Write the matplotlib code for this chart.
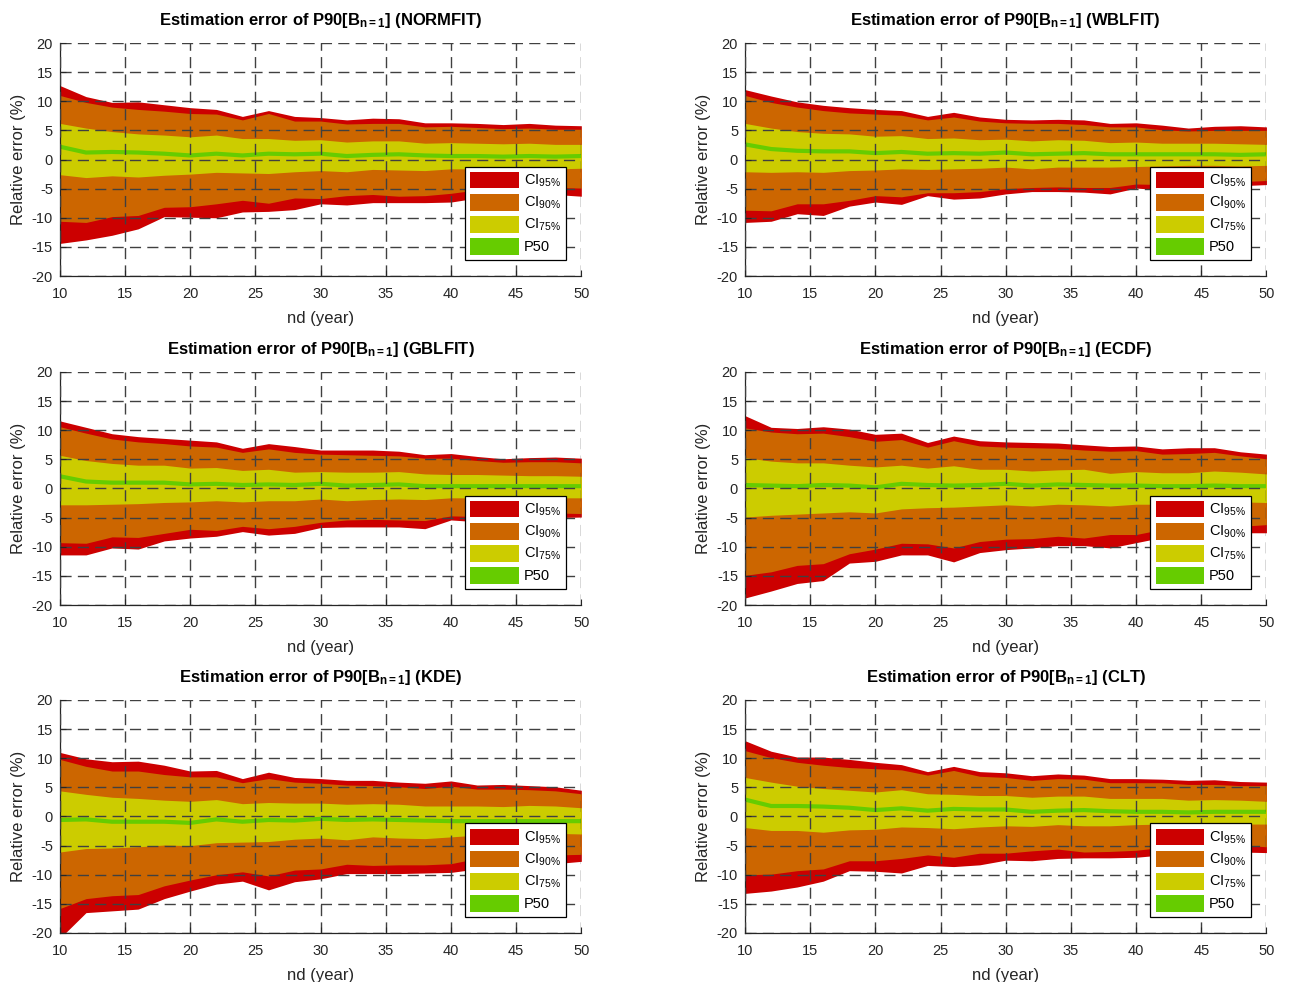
import numpy as np
import matplotlib
matplotlib.use("Agg")
import matplotlib.pyplot as plt
from matplotlib.patches import Patch

plt.rcParams['font.family'] = ['Liberation Sans', 'DejaVu Sans']
plt.rcParams['mathtext.fontset'] = 'custom'
plt.rcParams['mathtext.rm'] = 'Liberation Sans'
plt.rcParams['mathtext.it'] = 'Liberation Sans'
plt.rcParams['mathtext.bf'] = 'Liberation Sans:bold'
plt.rcParams['axes.unicode_minus'] = False

nd = np.arange(10, 51, 2)

# NORMFIT
normfit_hi95 = [12.7, 10.8, 9.8, 9.9, 9.4, 8.9, 8.6, 7.4, 8.4, 7.4, 7.2, 6.8, 7.1, 7.0, 6.3, 6.3, 6.2, 6.0, 6.2, 5.9, 5.8]
normfit_hi90 = [11.0, 9.8, 9.0, 8.6, 8.3, 7.9, 7.8, 6.8, 7.9, 6.6, 6.6, 6.1, 6.2, 6.2, 5.6, 5.7, 5.5, 5.3, 5.4, 5.2, 5.2]
normfit_hi75 = [6.2, 5.4, 4.8, 4.4, 4.2, 3.9, 4.2, 3.6, 3.6, 3.3, 3.4, 3.0, 3.2, 3.2, 2.8, 2.9, 2.8, 2.7, 2.8, 2.6, 2.6]
normfit_p50 = [2.2, 1.2, 1.3, 1.2, 1.0, 0.7, 1.0, 0.7, 1.0, 0.9, 1.0, 0.6, 0.8, 0.9, 0.7, 0.6, 0.6, 0.5, 0.6, 0.5, 0.6]
normfit_lo75 = [-2.6, -3.1, -2.8, -3.0, -2.7, -2.5, -2.2, -2.3, -2.4, -2.1, -1.9, -2.1, -1.7, -1.8, -1.9, -1.6, -1.6, -1.5, -1.5, -1.6, -1.5]
normfit_lo90 = [-10.6, -10.8, -9.8, -9.6, -8.2, -8.1, -7.6, -7.0, -7.5, -6.6, -6.7, -6.2, -6.0, -6.3, -6.2, -5.8, -5.2, -5.0, -5.0, -4.8, -4.9]
normfit_lo95 = [-14.4, -13.8, -13.0, -11.9, -9.8, -9.9, -10.0, -9.0, -8.9, -8.6, -7.6, -7.8, -7.4, -7.4, -7.4, -7.3, -6.6, -6.5, -6.4, -6.0, -6.3]

# WBLFIT
wblfit_hi95 = [12.0, 10.9, 9.9, 9.3, 8.9, 8.6, 8.4, 7.4, 8.1, 7.3, 6.9, 6.8, 6.9, 6.8, 6.2, 6.3, 5.9, 5.4, 5.7, 5.8, 5.6]
wblfit_hi90 = [11.0, 9.8, 9.0, 8.4, 8.0, 7.8, 7.6, 6.8, 7.3, 6.6, 6.3, 6.2, 6.2, 6.0, 5.6, 5.6, 5.1, 4.9, 5.0, 5.0, 5.0]
wblfit_hi75 = [6.2, 5.4, 4.8, 4.5, 4.4, 4.0, 4.1, 3.6, 3.7, 3.4, 3.5, 3.2, 3.4, 3.3, 2.9, 3.0, 2.8, 2.8, 2.8, 2.7, 2.6]
wblfit_p50 = [2.6, 1.8, 1.5, 1.4, 1.4, 1.1, 1.3, 1.0, 1.1, 1.0, 1.2, 0.9, 1.0, 1.1, 0.9, 0.9, 0.9, 0.9, 0.9, 0.8, 0.9]
wblfit_lo75 = [-2.1, -2.2, -2.1, -2.2, -1.9, -1.8, -1.6, -1.7, -1.6, -1.5, -1.3, -1.6, -1.3, -1.3, -1.3, -1.2, -1.1, -1.0, -1.0, -1.1, -1.0]
wblfit_lo90 = [-8.7, -8.8, -7.6, -7.6, -7.0, -6.2, -6.4, -5.7, -5.7, -5.5, -5.0, -4.8, -4.7, -4.8, -4.8, -4.2, -4.3, -4.2, -4.1, -3.8, -3.6]
wblfit_lo95 = [-10.8, -10.6, -9.3, -9.6, -8.0, -7.3, -7.7, -6.2, -6.8, -6.6, -5.9, -5.5, -5.5, -5.6, -5.9, -4.9, -5.2, -4.8, -4.6, -4.5, -4.3]

# GBLFIT
gblfit_hi95 = [11.6, 10.5, 9.4, 8.9, 8.6, 8.3, 8.0, 6.9, 7.7, 7.2, 6.6, 6.6, 6.6, 6.4, 5.8, 6.0, 5.5, 5.1, 5.3, 5.4, 5.2]
gblfit_hi90 = [10.6, 9.5, 8.5, 8.0, 7.7, 7.3, 7.1, 6.2, 6.8, 6.2, 5.9, 5.8, 5.7, 5.6, 5.2, 5.2, 4.8, 4.5, 4.6, 4.6, 4.4]
gblfit_hi75 = [5.7, 4.8, 4.3, 4.0, 4.0, 3.5, 3.6, 3.1, 3.3, 2.8, 2.9, 2.8, 2.8, 2.9, 2.5, 2.4, 2.4, 2.3, 2.2, 2.2, 2.1]
gblfit_p50 = [2.1, 1.2, 1.0, 1.0, 1.0, 0.7, 0.8, 0.6, 0.7, 0.6, 0.8, 0.5, 0.6, 0.7, 0.4, 0.4, 0.4, 0.4, 0.4, 0.4, 0.4]
gblfit_lo75 = [-2.8, -2.8, -2.7, -2.6, -2.4, -2.3, -2.1, -2.3, -2.1, -2.1, -1.8, -2.1, -1.9, -1.8, -1.9, -1.6, -1.6, -1.6, -1.6, -1.6, -1.6]
gblfit_lo90 = [-9.3, -9.4, -8.3, -8.4, -7.7, -7.0, -7.2, -6.5, -6.9, -6.5, -5.8, -5.4, -5.3, -5.4, -5.5, -4.7, -4.8, -4.5, -4.3, -4.2, -4.3]
gblfit_lo95 = [-11.4, -11.4, -10.2, -10.4, -9.0, -8.5, -8.2, -7.4, -8.0, -7.7, -6.7, -6.6, -6.6, -6.6, -6.9, -5.4, -5.7, -5.3, -5.1, -5.0, -4.9]

# ECDF
ecdf_hi95 = [12.5, 10.5, 10.3, 10.6, 10.2, 9.3, 9.5, 7.9, 9.0, 8.2, 8.0, 7.9, 7.8, 7.5, 7.2, 7.3, 6.8, 7.0, 7.0, 6.3, 5.9]
ecdf_hi90 = [10.4, 9.7, 9.4, 9.5, 8.9, 8.1, 8.4, 7.1, 8.2, 7.3, 7.1, 7.0, 6.9, 6.6, 6.4, 6.5, 5.9, 6.0, 6.2, 5.6, 5.1]
ecdf_hi75 = [5.3, 4.7, 4.4, 4.4, 4.0, 3.7, 4.0, 3.5, 3.9, 3.3, 3.3, 3.0, 3.2, 3.3, 2.6, 2.9, 2.7, 2.7, 3.0, 2.8, 2.5]
ecdf_p50 = [0.6, 0.5, 0.4, 0.6, 0.5, 0.2, 0.8, 0.6, 0.5, 0.6, 0.8, 0.5, 0.7, 0.6, 0.5, 0.5, 0.4, 0.4, 0.5, 0.4, 0.4]
ecdf_lo75 = [-4.9, -4.6, -4.4, -4.2, -4.0, -4.2, -3.5, -3.3, -3.2, -3.0, -2.8, -3.0, -2.7, -2.8, -3.0, -2.7, -2.7, -2.5, -2.5, -2.3, -2.4]
ecdf_lo90 = [-14.9, -14.3, -13.2, -12.9, -11.2, -10.4, -9.4, -9.5, -10.2, -9.1, -8.7, -8.6, -8.2, -8.5, -7.9, -7.9, -7.0, -6.9, -6.7, -6.5, -6.2]
ecdf_lo95 = [-18.8, -17.6, -16.3, -15.8, -12.8, -12.5, -11.4, -11.4, -12.6, -11.0, -10.5, -10.2, -9.8, -9.8, -10.2, -9.3, -8.4, -8.3, -8.1, -7.6, -7.6]

# KDE
kde_hi95 = [11.0, 9.9, 9.4, 9.5, 8.8, 7.8, 7.9, 6.5, 7.6, 6.7, 6.5, 6.2, 6.2, 5.9, 5.7, 6.1, 5.4, 5.5, 5.3, 5.1, 4.5]
kde_hi90 = [9.8, 8.6, 7.8, 7.8, 7.2, 6.8, 6.8, 5.8, 6.5, 5.9, 5.7, 5.4, 5.3, 5.1, 4.8, 5.2, 4.7, 4.7, 4.6, 4.4, 3.9]
kde_hi75 = [4.4, 3.8, 3.3, 3.1, 2.8, 2.6, 2.9, 2.2, 2.4, 2.3, 2.3, 2.1, 2.2, 2.1, 1.8, 1.8, 1.8, 1.7, 1.9, 1.8, 1.5]
kde_p50 = [-0.6, -0.5, -0.9, -0.9, -0.9, -1.1, -0.5, -0.9, -0.6, -0.7, -0.4, -0.6, -0.5, -0.6, -0.7, -0.8, -0.8, -0.8, -0.8, -0.8, -0.8]
kde_lo75 = [-6.1, -5.5, -5.4, -5.2, -4.9, -5.0, -4.5, -4.4, -4.3, -3.9, -3.7, -4.0, -3.5, -3.7, -3.8, -3.5, -3.2, -3.2, -3.0, -2.9, -3.0]
kde_lo90 = [-15.8, -14.1, -13.6, -13.4, -11.9, -10.9, -10.0, -9.5, -10.2, -9.2, -9.0, -8.2, -8.4, -8.3, -8.3, -8.1, -7.2, -7.1, -6.8, -6.6, -6.5]
kde_lo95 = [-20.9, -16.5, -16.2, -15.9, -14.1, -12.8, -11.6, -11.1, -12.6, -11.2, -10.7, -9.8, -9.8, -9.8, -9.7, -9.6, -9.0, -8.8, -8.4, -8.1, -7.7]

# CLT
clt_hi95 = [13.0, 11.2, 10.2, 10.2, 9.8, 9.3, 8.9, 7.7, 8.6, 7.7, 7.5, 7.0, 7.3, 7.1, 6.5, 6.5, 6.4, 6.2, 6.3, 6.0, 5.9]
clt_hi90 = [11.3, 10.1, 9.3, 8.8, 8.4, 8.2, 8.0, 7.1, 7.9, 6.9, 6.7, 6.2, 6.5, 6.4, 5.8, 5.8, 5.8, 5.5, 5.5, 5.3, 5.3]
clt_hi75 = [6.7, 5.9, 5.2, 4.8, 4.5, 4.2, 4.6, 3.9, 3.8, 3.6, 3.6, 3.3, 3.5, 3.5, 3.1, 3.1, 3.1, 2.8, 2.9, 2.8, 2.6]
clt_p50 = [2.9, 1.8, 1.8, 1.7, 1.5, 1.1, 1.4, 1.0, 1.3, 1.2, 1.2, 0.8, 1.0, 1.1, 0.9, 0.8, 0.8, 0.7, 0.8, 0.8, 0.8]
clt_lo75 = [-1.9, -2.4, -2.4, -2.7, -2.3, -2.2, -1.8, -1.9, -2.1, -1.8, -1.6, -1.7, -1.4, -1.6, -1.6, -1.4, -1.3, -1.2, -1.2, -1.3, -1.3]
clt_lo90 = [-10.0, -9.9, -9.3, -9.0, -7.6, -7.6, -7.2, -6.6, -7.0, -6.3, -6.3, -5.9, -5.6, -6.1, -6.0, -5.8, -5.3, -5.2, -5.1, -4.9, -5.2]
clt_lo95 = [-13.2, -12.8, -12.1, -11.1, -9.3, -9.4, -9.7, -8.4, -8.6, -8.3, -7.5, -7.6, -7.2, -7.1, -7.1, -7.0, -6.6, -6.5, -6.4, -6.1, -6.2]

methods = ['NORMFIT', 'WBLFIT', 'GBLFIT', 'ECDF', 'KDE', 'CLT']
panels = [
    (normfit_lo95, normfit_hi95, normfit_lo90, normfit_hi90, normfit_lo75, normfit_hi75, normfit_p50),
    (wblfit_lo95, wblfit_hi95, wblfit_lo90, wblfit_hi90, wblfit_lo75, wblfit_hi75, wblfit_p50),
    (gblfit_lo95, gblfit_hi95, gblfit_lo90, gblfit_hi90, gblfit_lo75, gblfit_hi75, gblfit_p50),
    (ecdf_lo95, ecdf_hi95, ecdf_lo90, ecdf_hi90, ecdf_lo75, ecdf_hi75, ecdf_p50),
    (kde_lo95, kde_hi95, kde_lo90, kde_hi90, kde_lo75, kde_hi75, kde_p50),
    (clt_lo95, clt_hi95, clt_lo90, clt_hi90, clt_lo75, clt_hi75, clt_p50),
]

c95 = '#cc0000'
c90 = '#cc6600'
c75 = '#cccc00'
c50 = '#66cc00'
txt = '#262626'

fig = plt.figure(figsize=(12.89, 9.82), dpi=100)

lefts = [0.0465, 0.578]
bottoms = [0.7189, 0.3839, 0.0499]

for i, (m, p) in enumerate(zip(methods, panels)):
    r, c = divmod(i, 2)
    ax = fig.add_axes([lefts[c], bottoms[r], 0.4045, 0.2373])
    lo95, hi95, lo90, hi90, lo75, hi75, p50 = p

    ax.fill_between(nd, lo95, hi95, color=c95, lw=0)
    ax.fill_between(nd, lo90, hi90, color=c90, lw=0)
    ax.fill_between(nd, lo75, hi75, color=c75, lw=0)
    ax.plot(nd, p50, color=c50, lw=3, solid_joinstyle='miter')

    ax.set_xlim(10, 50)
    ax.set_ylim(-20, 20)
    ax.set_xticks(np.arange(10, 51, 5))
    ax.set_yticks(np.arange(-20, 21, 5))
    ax.set_axisbelow(False)
    # grid on top of the bands, like the original
    ax.grid(True, color='#404040', linestyle=(0, (8, 4.5)), linewidth=1.0)
    ax.spines['top'].set_visible(False)
    ax.spines['right'].set_visible(False)
    for s in ('left', 'bottom'):
        ax.spines[s].set_color(txt)
        ax.spines[s].set_linewidth(0.9)
    ax.tick_params(direction='in', length=4, width=0.8, colors=txt, labelsize=10.5, pad=5)
    ax.tick_params(axis='x', pad=8)

    ax.set_xlabel('nd (year)', fontsize=12, color=txt, labelpad=7)
    ax.set_ylabel('Relative error (%)', fontsize=12, color=txt, labelpad=4)
    ax.set_title(r'Estimation error of P90[B$_{\mathbf{n=1}}$] (' + m + ')',
                 fontsize=12, fontweight='bold', color='black', pad=13)

    handles = [Patch(facecolor=c95), Patch(facecolor=c90), Patch(facecolor=c75), Patch(facecolor=c50)]
    labels = [r'CI$_{95\%}$', r'CI$_{90\%}$', r'CI$_{75\%}$', 'P50']
    leg = ax.legend(handles, labels, loc='lower right', bbox_to_anchor=(0.97, 0.07),
                    fontsize=10.5, handlelength=3.3, handleheight=1.4, labelspacing=0.3,
                    handletextpad=0.35, borderpad=0.35, borderaxespad=0, fancybox=False,
                    framealpha=1, edgecolor='black')
    leg.get_frame().set_linewidth(0.9)

fig.savefig('out.png', dpi=100)
